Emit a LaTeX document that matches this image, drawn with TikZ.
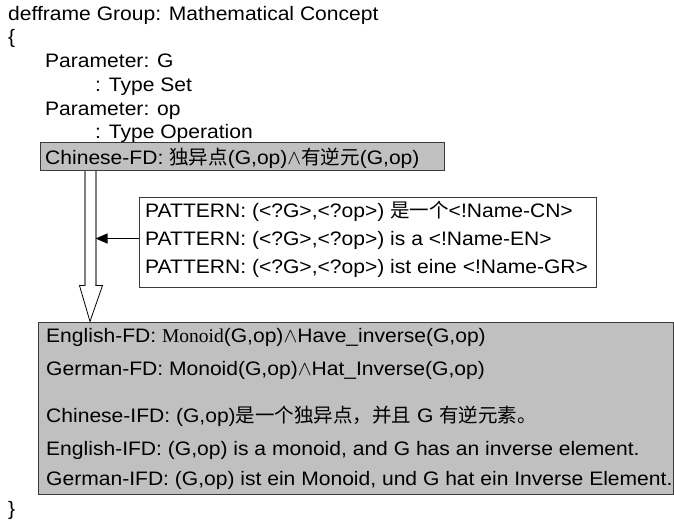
\documentclass[tikz,border=0pt]{standalone}
\usepackage{fontspec}
\setmainfont{Liberation Sans}[FakeStretch=1.08]
\newfontfamily\cjk{Noto Sans CJK SC}
\newfontfamily\tms{Liberation Serif}
\usetikzlibrary{arrows.meta,calc}
\definecolor{Panel}{HTML}{C0C0C0}
\definecolor{Edge}{HTML}{3A3A3A}
\definecolor{Shaft}{HTML}{808080}

\begin{document}
\begin{tikzpicture}[x=1pt,y=-1pt,
  every node/.style={font=\fontsize{19.5}{23}\selectfont,inner sep=0pt},
  ln/.style={anchor=base west},
  fdbox/.style={draw=Edge,fill=Panel,line width=1pt,rectangle},
  patbox/.style={draw=Edge,fill=white,line width=1pt,rectangle}]
  \useasboundingbox (0,0) rectangle (674,522);
  \node[ln] (title) at (8,20) {defframe Group: Mathematical Concept};
  \node[ln] (open) at (8,43) {\{};
  \node[ln] (parg) at (45,67) {Parameter: G};
  \node[ln] (typg) at (95,91) {: Type Set};
  \node[ln] (parop) at (45,115) {Parameter: op};
  \node[ln] (typop) at (95,138) {: Type Operation};
  \node[fdbox,minimum width=404,minimum height=28] (cnfd) at (242,156) {};
  \node[ln] (cnfdtxt) at (45,164) {Chinese-FD: {\cjk 独异点}(G,op)$\wedge${\cjk 有逆元}(G,op)};
  \node[patbox,minimum width=457,minimum height=90] (pat) at (367.5,242) {};
  \foreach \i/\y/\t in {1/217/{(<?G>,<?op>) {\cjk 是一个}<!Name-CN>},
                        2/245/{(<?G>,<?op>) is a <!Name-EN>},
                        3/273/{(<?G>,<?op>) ist eine <!Name-GR>}} {
    \node[ln] (pat\i) at (145,\y) {PATTERN: \t};
  }
  \node[fdbox,minimum width=635,minimum height=172] (outfd) at (355.5,408) {};
  \node[ln] (enfd) at (46,342) {English-FD: {\tms Monoid}(G,op)$\wedge$Have\_inverse(G,op)};
  \node[ln] (defd) at (46,375) {German-FD: Monoid(G,op)$\wedge$Hat\_Inverse(G,op)};
  \node[ln] (cnifd) at (46,422) {Chinese-IFD: (G,op){\cjk 是一个独异点，并且} G {\cjk 有逆元素。}};
  \node[ln] (enifd) at (46,455) {English-IFD: (G,op) is a monoid, and G has an inverse element.};
  \node[ln] (deifd) at (46,485) {German-IFD: (G,op) ist ein Monoid, und G hat ein Inverse Element.};
  \node[ln] (close) at (8,515) {\}};
  \coordinate (sl) at ($(cnfd.south west)+(45,0)$);
  \coordinate (sr) at ($(cnfd.south west)+(56,0)$);
  \coordinate (tip) at ($(outfd.north west)+(52.5,0)$);
  \coordinate (hit) at ($(sr)+(0,68)$);
  \draw[Shaft,line width=2pt] (sl) -- ++(0,115) (sr) -- ++(0,115);
  \draw[line width=0.8pt,line join=miter] ($(sl)+(0,115)$) -- ++(-5,0) -- (tip) -- ($(sr)+(7,115)$) -- ++(-7,0);
  \draw[-{Triangle[length=12pt,width=10pt]},line width=1.2pt] (pat.west |- hit) -- (hit);
\end{tikzpicture}
\end{document}
